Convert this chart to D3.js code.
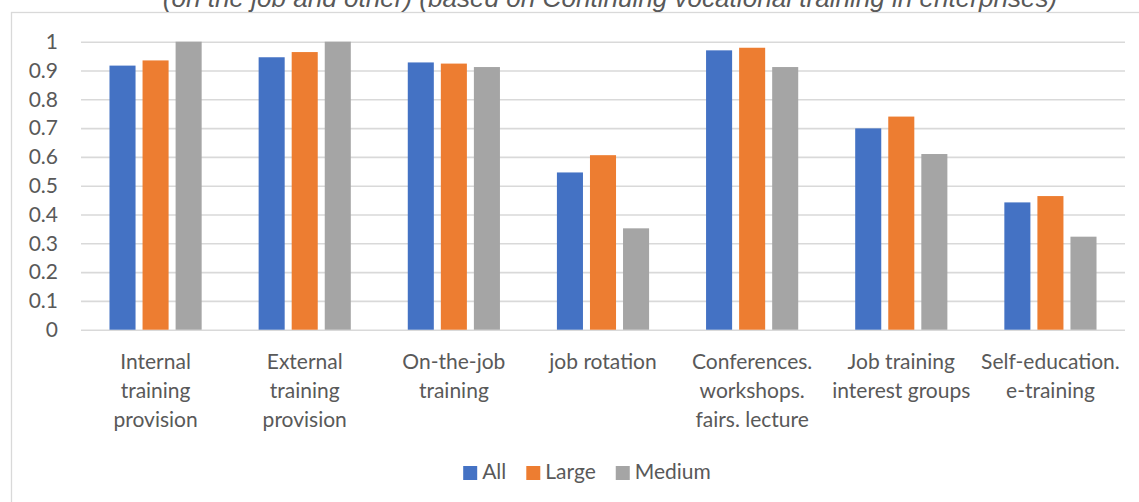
<!DOCTYPE html>
<html>
<head>
<meta charset="utf-8">
<script src="https://cdn.jsdelivr.net/npm/d3@7"></script>
<style>
  html, body { margin: 0; padding: 0; background: #ffffff; }
  svg { display: block; }
  text { font-family: Lato, "Open Sans", sans-serif; fill: #595959; }
</style>
</head>
<body>
<svg id="chart" width="1139" height="502"></svg>
<script>
// Share of enterprises offering each form of training, by enterprise size
const categories = [
  ["Internal", "training", "provision"],
  ["External", "training", "provision"],
  ["On-the-job", "training"],
  ["job rotation"],
  ["Conferences.", "workshops.", "fairs. lecture"],
  ["Job training", "interest groups"],
  ["Self-education.", "e-training"]
];
const seriesNames = ["All", "Large", "Medium"];
const allValues    = [0.917, 0.946, 0.928, 0.546, 0.970, 0.699, 0.442];
const largeValues  = [0.935, 0.964, 0.924, 0.606, 0.979, 0.740, 0.464];
const mediumValues = [1.000, 1.000, 0.912, 0.352, 0.912, 0.610, 0.323];
const seriesColors = ["#4472C4", "#ED7D31", "#A5A5A5"];
const yTicks = [0, 0.1, 0.2, 0.3, 0.4, 0.5, 0.6, 0.7, 0.8, 0.9, 1];
const titleText = "(on the job and other) (based on Continuing vocational training in enterprises)";

const svg = d3.select("#chart");
const W = 1139, H = 502;
const plot = { left: 81, right: 1125, top: 41.7, bottom: 329.7 };

const seriesValues = [allValues, largeValues, mediumValues];
const keys = categories.map(c => c.join(" "));
const rows = keys.map((k, i) => ({
  key: k,
  lines: categories[i],
  values: seriesNames.map((s, j) => ({ series: s, value: seriesValues[j][i], color: seriesColors[j] }))
}));

// chart area frame
svg.append("rect")
  .attr("x", 11.5).attr("y", 12.5)
  .attr("width", 1300).attr("height", 700)
  .attr("fill", "#ffffff")
  .attr("stroke", "#d9d9d9").attr("stroke-width", 1.3);

// title
const title = svg.append("text")
  .attr("x", 610).attr("y", 7)
  .attr("text-anchor", "middle")
  .style("font-family", "'Liberation Sans', Arial, sans-serif")
  .style("font-style", "italic")
  .style("font-size", "20px")
  .text(titleText);
const tLen = title.node().getComputedTextLength();
title.style("font-size", (20 * 895 / tLen) + "px");

// scales
const x0 = d3.scaleBand()
  .domain(keys)
  .range([plot.left, plot.right])
  .paddingInner(0.382)
  .paddingOuter(0.191);
const x1 = d3.scaleBand()
  .domain(seriesNames)
  .range([0, x0.bandwidth()])
  .paddingInner(0.212)
  .paddingOuter(0);
const y = d3.scaleLinear().domain([0, 1]).range([plot.bottom, plot.top]);

// gridlines and y labels
const yAxis = d3.axisLeft(y)
  .tickValues(yTicks)
  .tickFormat(d3.format(".1~f"))
  .tickSize(-(plot.right - plot.left))
  .tickPadding(23);
const gy = svg.append("g")
  .attr("transform", `translate(${plot.left},0)`)
  .call(yAxis);
gy.select(".domain").remove();
gy.selectAll(".tick line").attr("stroke", "#d9d9d9").attr("stroke-width", 1.6);
gy.selectAll(".tick text")
  .attr("fill", "#595959")
  .style("font-size", "21px")
  .style("font-family", "Lato, sans-serif");

// bars
const groups = svg.append("g").selectAll("g")
  .data(rows)
  .join("g")
  .attr("transform", d => `translate(${x0(d.key)},0)`);
groups.selectAll("rect")
  .data(d => d.values)
  .join("rect")
  .attr("x", d => x1(d.series))
  .attr("y", d => y(d.value))
  .attr("width", x1.bandwidth())
  .attr("height", d => y(0) - y(d.value))
  .attr("fill", d => d.color);

// category labels
const xAxis = d3.axisBottom(x0).tickSize(0).tickFormat("");
const gx = svg.append("g")
  .attr("transform", `translate(0,${plot.bottom})`)
  .call(xAxis);
gx.select(".domain").remove();
gx.selectAll(".tick").each(function(k) {
  const row = rows.find(r => r.key === k);
  const t = d3.select(this).append("text")
    .attr("text-anchor", "middle")
    .attr("fill", "#595959")
    .style("font-size", "21px");
  row.lines.forEach((ln, i) => {
    t.append("tspan").attr("x", 0).attr("y", 39 + i * 29).text(ln);
  });
});

// legend
const legend = svg.append("g");
const items = legend.selectAll("g")
  .data(seriesNames.map((s, i) => ({ name: s, color: seriesColors[i] })))
  .join("g");
items.append("rect")
  .attr("x", 0).attr("y", -13)
  .attr("width", 14).attr("height", 14)
  .attr("fill", d => d.color);
items.append("text")
  .attr("x", 19).attr("y", 0)
  .style("font-size", "21px")
  .text(d => d.name);
let cursor = 0;
items.each(function() {
  const g = d3.select(this);
  const w = 19 + g.select("text").node().getComputedTextLength();
  g.attr("transform", `translate(${cursor},0)`);
  cursor += w + 20;
});
const legendWidth = cursor - 20;
legend.attr("transform", `translate(${587 - legendWidth / 2},479)`);
</script>
</body>
</html>
